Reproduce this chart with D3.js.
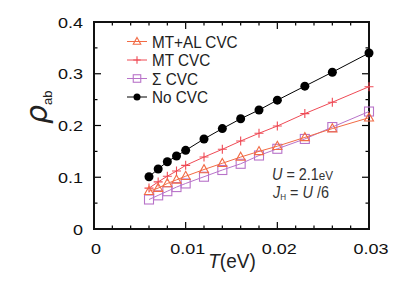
<!DOCTYPE html>
<html>
<head>
<meta charset="utf-8">
<script src="https://cdn.jsdelivr.net/npm/d3@7.9.0/dist/d3.min.js"></script>
<style>
  body { margin: 0; background: #fff; }
  svg { display: block; }
</style>
</head>
<body>
<svg id="chart" width="409" height="291"></svg>
<script>
// Data
const temps = [0.006, 0.007, 0.008, 0.009, 0.010, 0.012, 0.014, 0.016, 0.018, 0.020, 0.023, 0.026, 0.030];
const noCVC   = [0.101, 0.116, 0.130, 0.141, 0.152, 0.174, 0.194, 0.213, 0.230, 0.249, 0.276, 0.303, 0.340];
const mtCVC   = [0.079, 0.091, 0.102, 0.112, 0.123, 0.139, 0.154, 0.170, 0.185, 0.199, 0.223, 0.245, 0.275];
const mtalCVC = [0.073, 0.079, 0.088, 0.095, 0.102, 0.115, 0.127, 0.139, 0.150, 0.160, 0.177, 0.194, 0.215];
const sigCVC  = [0.057, 0.065, 0.073, 0.081, 0.088, 0.101, 0.114, 0.126, 0.142, 0.155, 0.174, 0.197, 0.227];
const xTicks = [0, 0.01, 0.02, 0.03];
const yTicks = [0, 0.1, 0.2, 0.3, 0.4];

const series = [
  { name: "MT+AL CVC", values: mtalCVC, color: "#f26b45", marker: "triangle" },
  { name: "MT CVC", values: mtCVC, color: "#ef4a55", marker: "plus" },
  { name: "\u03A3 CVC", values: sigCVC, color: "#b873c9", marker: "square" },
  { name: "No CVC", values: noCVC, color: "#000000", marker: "circle" }
];

const svg = d3.select("#chart");
const x = d3.scaleLinear().domain([0, 0.03]).range([94, 369]);
const y = d3.scaleLinear().domain([0, 0.4]).range([229, 22]);

const font = "'Liberation Sans', Arial, sans-serif";

// Frame with inward ticks on all sides
const frame = svg.append("g");
const minorX = d3.range(0, 0.0301, 0.002);
const minorY = d3.range(0, 0.401, 0.05);
const isMajorX = v => Math.abs(v * 100 - Math.round(v * 100)) < 1e-6;
const isMajorY = v => Math.abs(v * 10 - Math.round(v * 10)) < 1e-6;

minorX.forEach(v => {
  const len = isMajorX(v) ? 7 : 3.5;
  frame.append("line").attr("x1", x(v)).attr("x2", x(v)).attr("y1", y(0)).attr("y2", y(0) - len);
  frame.append("line").attr("x1", x(v)).attr("x2", x(v)).attr("y1", y(0.4)).attr("y2", y(0.4) + len);
});
minorY.forEach(v => {
  const len = isMajorY(v) ? 7 : 3.5;
  frame.append("line").attr("x1", x(0)).attr("x2", x(0) + len).attr("y1", y(v)).attr("y2", y(v));
  frame.append("line").attr("x1", x(0.03)).attr("x2", x(0.03) - len).attr("y1", y(v)).attr("y2", y(v));
});
frame.selectAll("line").attr("stroke", "#000").attr("stroke-width", 1.2);
frame.append("rect")
  .attr("x", x(0)).attr("y", y(0.4))
  .attr("width", x(0.03) - x(0)).attr("height", y(0) - y(0.4))
  .attr("fill", "none").attr("stroke", "#111").attr("stroke-width", 2);

// text drawn with a horizontal stretch factor, to match glyph widths of the figure
function scaledText(g, px, py, anchor, size, sx) {
  return g.append("text")
    .attr("transform", `translate(${px},${py}) scale(${sx},1)`)
    .attr("text-anchor", anchor)
    .attr("font-family", font)
    .attr("font-size", size)
    .attr("fill", "#111");
}
xTicks.forEach(v => scaledText(svg, x(v) + 2, 254, "middle", 15, 1.2).text(v === 0 ? "0" : String(v)));
yTicks.forEach(v => scaledText(svg, 83, y(v) + 5.5, "end", 15, 1.2).text(v === 0 ? "0" : String(v)));

// axis titles
const xt = scaledText(svg, 232, 268, "middle", 20, 0.95).attr("fill", "#222");
xt.append("tspan").attr("font-style", "italic").text("T");
xt.append("tspan").text("(eV)");

const yt = svg.append("text")
  .attr("transform", "translate(47,124) rotate(-90)")
  .attr("font-family", "'DejaVu Sans', sans-serif")
  .attr("fill", "#222");
yt.append("tspan").attr("font-size", 30).attr("font-style", "italic").text("\u03C1");
yt.append("tspan").attr("font-size", 13).attr("font-family", font).attr("dy", 5).text("ab");

// series lines and markers
const line = d3.line().x((d, i) => x(temps[i])).y(d => y(d));

function drawMarker(g, type, cx, cy, color, s) {
  if (type === "circle") {
    g.append("circle").attr("cx", cx).attr("cy", cy).attr("r", s * 0.5).attr("fill", color);
  } else if (type === "square") {
    g.append("rect").attr("x", cx - s / 2).attr("y", cy - s / 2).attr("width", s).attr("height", s)
      .attr("fill", "none").attr("stroke", color).attr("stroke-width", 1.1);
  } else if (type === "triangle") {
    const h = s * 0.9;
    g.append("path")
      .attr("d", `M${cx},${cy - h * 0.6} L${cx + s / 2},${cy + h * 0.4} L${cx - s / 2},${cy + h * 0.4} Z`)
      .attr("fill", "none").attr("stroke", color).attr("stroke-width", 1.1);
  } else if (type === "plus") {
    g.append("path")
      .attr("d", `M${cx - s / 2},${cy} H${cx + s / 2} M${cx},${cy - s / 2} V${cy + s / 2}`)
      .attr("stroke", color).attr("stroke-width", 1.1);
  }
}

const plot = svg.append("g");
series.slice().reverse().forEach(s => {
  plot.append("path")
    .datum(s.values)
    .attr("d", line)
    .attr("fill", "none")
    .attr("stroke", s.color)
    .attr("stroke-width", 1);
  s.values.forEach((v, i) => drawMarker(plot, s.marker, x(temps[i]), y(v), s.color, 9));
});

// legend
const legendY = [41.5, 60, 78.5, 97];
const legend = svg.append("g");
series.forEach((s, i) => {
  const ly = legendY[i];
  legend.append("line").attr("x1", 127).attr("x2", 147).attr("y1", ly).attr("y2", ly)
    .attr("stroke", s.color).attr("stroke-width", 1);
  drawMarker(legend, s.marker, 137, ly, s.color, s.marker === "circle" ? 7 : 7.5);
  scaledText(legend, 152, ly + 6, "start", 17, 0.9).attr("fill", "#222").text(s.name);
});

// annotation
const a1 = scaledText(svg, 272, 180, "start", 16, 0.9).attr("fill", "#333");
a1.append("tspan").attr("font-style", "italic").text("U");
a1.append("tspan").text(" = 2.1");
a1.append("tspan").attr("font-size", 13).text("eV");

const a2 = scaledText(svg, 273, 198, "start", 16, 0.9).attr("fill", "#333");
a2.append("tspan").attr("font-style", "italic").text("J");
a2.append("tspan").attr("font-size", 9).attr("dy", 2).text("H");
a2.append("tspan").attr("dy", -2).text(" = ");
a2.append("tspan").attr("font-style", "italic").text("U");
a2.append("tspan").text(" /6");
</script>
</body>
</html>
